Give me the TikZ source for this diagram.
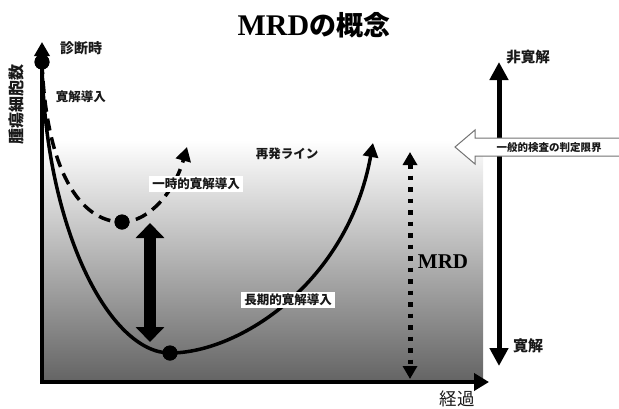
\documentclass[tikz,border=0pt]{standalone}
\usepackage{fontspec}
\setmainfont{Liberation Serif}
\newfontfamily\jp{Noto Sans CJK JP}
\usetikzlibrary{arrows.meta}
\tikzset{
  dotnode/.style={circle,fill=black,inner sep=0pt,minimum size=15pt},
  curveline/.style={line width=3.5pt,-{Triangle[width=15pt,length=14pt]}},
  dashcurve/.style={curveline,dash pattern=on 12pt off 7pt},
  axisline/.style={line width=4pt,line join=miter,{Triangle[width=15pt,length=14pt]}-{Triangle[width=17pt,length=15pt]}},
  jplabel/.style={font=\jp\bfseries\fontsize{12.5}{13}\selectfont,inner sep=0pt,text=black!90},
  boxlabel/.style={jplabel,fill=white,inner xsep=3pt,inner ysep=2pt},
}
\begin{document}
\begin{tikzpicture}[x=1pt,y=-1pt]
\useasboundingbox (0,0) rectangle (619,408);
% background shading
\shade[top color=white,middle color=black!46,bottom color=black!61] (42,140) rectangle (483,382);
% named points
\node[dotnode] (d0) at (42,62) {};
\node[dotnode] (d1) at (122,222) {};
\node[dotnode] (d2) at (170,353) {};
\coordinate (t1) at (187,147);
\coordinate (t2) at (373,143);
% curves
\draw[dashcurve] (d0.center) .. controls (46,170) and (80,222) .. (d1.center) .. controls (150,222) and (175,190) .. (t1);
\draw[curveline] (d0.center) .. controls (45,230) and (110,353) .. (d2.center) .. controls (240,353) and (348,282) .. (t2);
% MRD dotted arrow
\coordinate (m1) at (410,152);
\coordinate (m2) at (410,379);
\draw[line width=5pt,dash pattern=on 4.5pt off 7pt,{Triangle[width=14pt,length=13pt]}-{Triangle[width=14pt,length=13pt]}] (m1) -- (m2);
% big double arrow
\coordinate (b1) at (150,223);
\coordinate (b2) at (150,342);
\draw[line width=12pt,{Triangle[width=28pt,length=15pt]}-{Triangle[width=28pt,length=15pt]}] (b1) -- (b2);
% axes
\coordinate (ytip) at (42,42);
\coordinate (orig) at (42,382);
\coordinate (xtip) at (489,382);
\draw[axisline] (ytip) -- (orig) -- (xtip);
% right vertical arrow
\coordinate (v1) at (499,62);
\coordinate (v2) at (499,366);
\draw[line width=5pt,{Triangle[width=18pt,length=18pt]}-{Triangle[width=18pt,length=18pt]}] (v1) -- (v2);
% hollow arrow
\draw[black!55,fill=white,line width=1pt,line join=miter] (455,147) -- (475,130) -- (475,138) -- (625,138) -- (625,156) -- (475,156) -- (475,164) -- cycle;
% dots on top
\fill (d0) circle (7.5pt);
\fill (d1) circle (7.5pt);
\fill (d2) circle (7.5pt);
% labels
\node[boxlabel] (lab1) at (196,184) {一時的寛解導入};
\node[boxlabel] (lab2) at (288,300) {長期的寛解導入};
\node (title) at (314,25) {\fontsize{30}{30}\selectfont\bfseries MRD{\jp\bfseries\fontsize{27}{27}\selectfont の概念}};
\node[jplabel,rotate=90,font=\jp\bfseries\fontsize{16}{16}\selectfont] (ylab) at (16,104) {腫瘍細胞数};
\node[jplabel,font=\jp\bfseries\fontsize{14}{14}\selectfont] (shindan) at (81,48) {診断時};
\node[jplabel] (kanindo) at (81,97) {寛解導入};
\node[jplabel] (saihatsu) at (287,154) {再発ライン};
\node[jplabel,font=\jp\bfseries\fontsize{10.5}{11}\selectfont] (hantei) at (549,148) {一般的検査の判定限界};
\node[font=\bfseries\fontsize{21}{21}\selectfont,inner sep=0pt] (mrd) at (443,262) {MRD};
\node[jplabel,font=\jp\bfseries\fontsize{14.5}{15}\selectfont] (hikan) at (528,57) {非寛解};
\node[jplabel,font=\jp\bfseries\fontsize{15}{15}\selectfont] (kan) at (528,346) {寛解};
\node[jplabel,font=\jp\fontsize{17.5}{18}\selectfont] (keika) at (457,399) {経過};
\end{tikzpicture}
\end{document}
